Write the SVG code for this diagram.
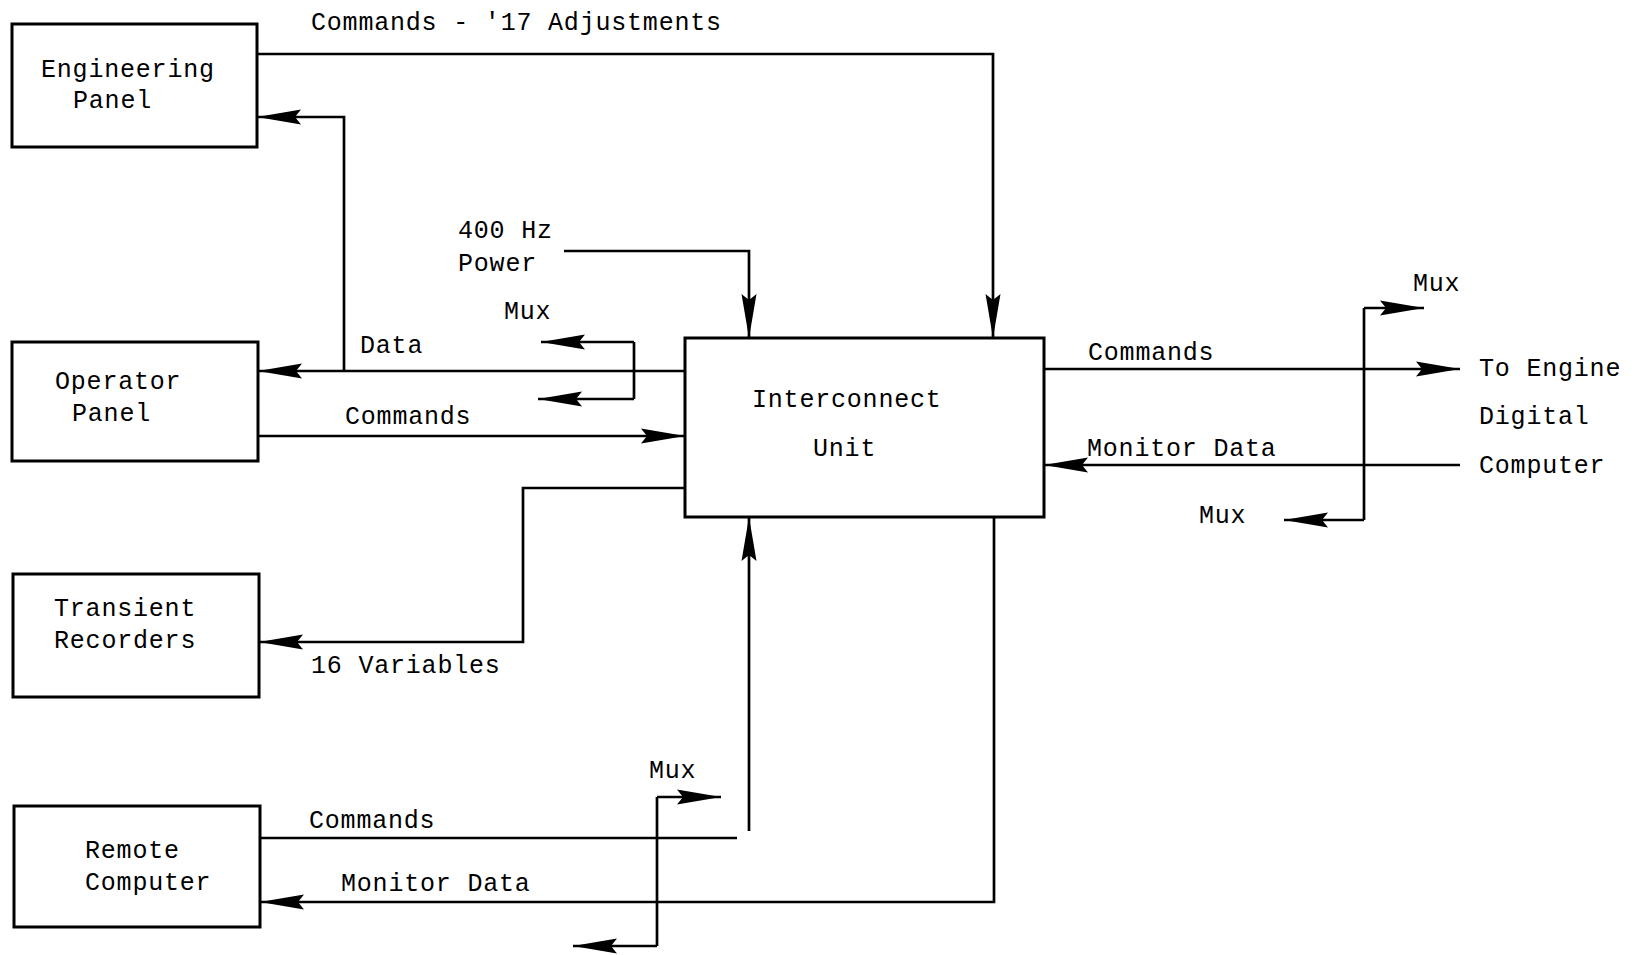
<svg xmlns="http://www.w3.org/2000/svg" width="1639" height="955" viewBox="0 0 1639 955">
<style>
.box{fill:#fff;stroke:#000;stroke-width:3}
.ln{fill:none;stroke:#000;stroke-width:2.7}
.ar{marker-end:url(#ah)}
text{font-family:"Liberation Mono","DejaVu Sans Mono",monospace;font-size:25px;letter-spacing:0.8px;fill:#000}
</style>
<defs>
<marker id="ah" markerUnits="userSpaceOnUse" markerWidth="48" markerHeight="18" viewBox="0 -9 48 18" refX="44" refY="0" orient="auto">
<path d="M0,-7.5 L44,0 L0,7.5 L6,0 z" fill="#000"/>
</marker>
</defs>
<rect width="1639" height="955" fill="#fff"/>

<g id="connectors">
<path class="ln ar" d="M257,54 L993,54 L993,338"/>
<path class="ln ar" d="M685,371 L258,371"/>
<path class="ln ar" d="M344,371 L344,117 L257,117"/>
<path class="ln" d="M634,342 L634,399"/>
<path class="ln ar" d="M634,342 L541,342"/>
<path class="ln ar" d="M634,399 L538,399"/>
<path class="ln ar" d="M258,436 L685,436"/>
<path class="ln ar" d="M564,251 L749,251 L749,338"/>
<path class="ln ar" d="M685,488 L523,488 L523,642 L259,642"/>
<path class="ln" d="M260,838 L737,838"/>
<path class="ln ar" d="M749,831 L749,517"/>
<path class="ln ar" d="M994,517 L994,902 L260,902"/>
<path class="ln" d="M657,797 L657,946"/>
<path class="ln ar" d="M657,797 L721,797"/>
<path class="ln ar" d="M657,946 L573,946"/>
<path class="ln ar" d="M1044,369 L1460,369"/>
<path class="ln ar" d="M1460,465 L1044,465"/>
<path class="ln" d="M1364,308 L1364,520"/>
<path class="ln ar" d="M1364,308 L1424,308"/>
<path class="ln ar" d="M1364,520 L1284,520"/>
</g>

<g id="engineering-panel">
<rect class="box" x="12" y="24" width="245" height="123"/>
<text x="41" y="77">Engineering</text>
<text x="73" y="108">Panel</text>
</g>
<g id="operator-panel">
<rect class="box" x="12" y="342" width="246" height="119"/>
<text x="55" y="389">Operator</text>
<text x="72" y="421">Panel</text>
</g>
<g id="transient-recorders">
<rect class="box" x="13" y="574" width="246" height="123"/>
<text x="54" y="616">Transient</text>
<text x="54" y="648">Recorders</text>
</g>
<g id="remote-computer">
<rect class="box" x="14" y="806" width="246" height="121"/>
<text x="85" y="858">Remote</text>
<text x="85" y="890">Computer</text>
</g>
<g id="interconnect-unit">
<rect class="box" x="685" y="338" width="359" height="179"/>
<text x="752" y="407">Interconnect</text>
<text x="813" y="456">Unit</text>
</g>

<g id="labels">
<text x="311" y="30">Commands - '17 Adjustments</text>
<text x="458" y="238">400 Hz</text>
<text x="458" y="271">Power</text>
<text x="504" y="319">Mux</text>
<text x="360" y="353">Data</text>
<text x="345" y="424">Commands</text>
<text x="311" y="673">16 Variables</text>
<text x="649" y="778">Mux</text>
<text x="309" y="828">Commands</text>
<text x="341" y="891">Monitor Data</text>
<text x="1413" y="291">Mux</text>
<text x="1088" y="360">Commands</text>
<text x="1479" y="376">To Engine</text>
<text x="1479" y="424">Digital</text>
<text x="1479" y="473">Computer</text>
<text x="1087" y="456">Monitor Data</text>
<text x="1199" y="523">Mux</text>
</g>
</svg>
